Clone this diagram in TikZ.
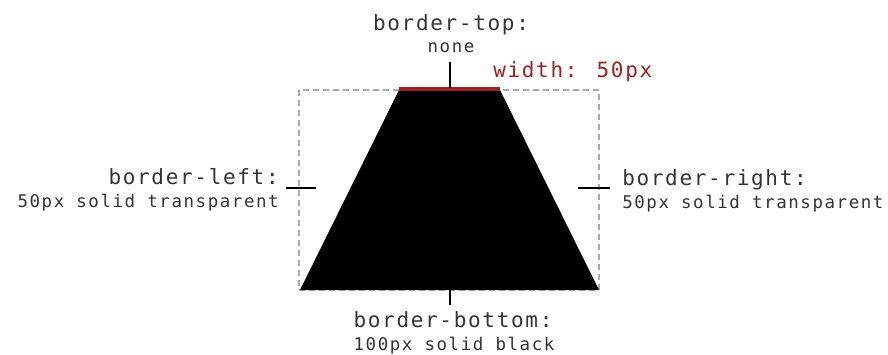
\documentclass[tikz,border=0pt]{standalone}
\usepackage{fontspec}
\newfontfamily\bigmono[LetterSpace=8]{DejaVu Sans Mono}
\newfontfamily\smallmono[LetterSpace=9]{DejaVu Sans Mono}
\definecolor{txt}{HTML}{333333}
\definecolor{redw}{HTML}{A0221E}
\definecolor{dashc}{HTML}{AAAAAA}
\tikzset{
  big/.style={inner sep=0pt, text=txt, font=\bigmono\fontsize{15.75pt}{18pt}\selectfont},
  small/.style={inner sep=0pt, text=txt, font=\smallmono\fontsize{13.1pt}{15pt}\selectfont},
  tick/.style={draw=black, line width=1pt},
  guide/.style={draw=dashc, line width=0.8pt, dash pattern=on 4.5pt off 3pt}
}
\begin{document}
\begin{tikzpicture}[x=0.75pt,y=-0.75pt]
\useasboundingbox (0,0) rectangle (888,354);
% dashed box
\coordinate (bxtl) at (299,90);
\coordinate (bxbr) at (599,290);
\draw[guide] (bxtl) rectangle (bxbr);
% trapezoid
\coordinate (ttl) at (399,90);
\coordinate (ttr) at (500,90);
\coordinate (tbr) at (599,290);
\coordinate (tbl) at (300,290);
\fill[black] (ttl) -- (ttr) -- (tbr) -- (tbl) -- cycle;
\fill[redw] (399,87) rectangle (500,91);
% ticks
\coordinate (tt1) at (450,62); \coordinate (tt2) at (450,88);
\draw[tick] (tt1) -- (tt2);
\coordinate (lt1) at (286,188); \coordinate (lt2) at (316,188);
\draw[tick] (lt1) -- (lt2);
\coordinate (rt1) at (578,188); \coordinate (rt2) at (610,188);
\draw[tick] (rt1) -- (rt2);
\coordinate (bt1) at (450,273); \coordinate (bt2) at (450,305);
\draw[tick] (bt1) -- (bt2);
% labels
\node[big, anchor=base] (top1) at (451,30) {border-top:};
\node[small, anchor=base] (top2) at (451,52) {none};
\node[big, anchor=base west, text=redw] (wid) at (493,77) {width: 50px};
\node[big, anchor=base east] (left1) at (279,184) {border-left:};
\node[small, anchor=base east] (left2) at (279,207) {50px solid transparent};
\node[big, anchor=base west] (right1) at (622,185) {border-right:};
\node[small, anchor=base west] (right2) at (622,208) {50px solid transparent};
\node[big, anchor=base] (bot1) at (453,327) {border-bottom:};
\node[small, anchor=base] (bot2) at (454,350) {100px solid black};
\end{tikzpicture}
\end{document}
